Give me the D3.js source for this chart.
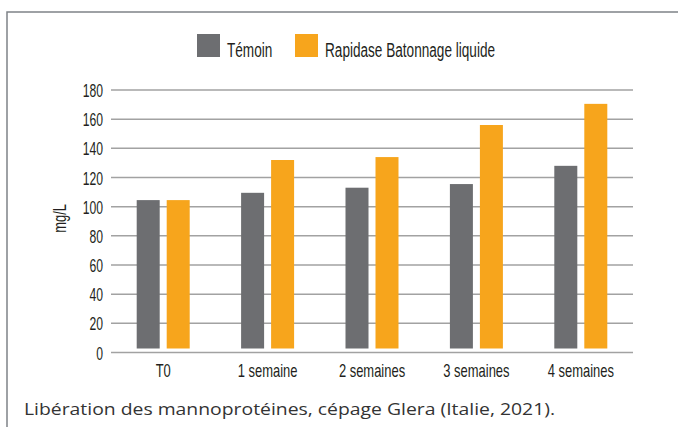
<!DOCTYPE html>
<html>
<head>
<meta charset="utf-8">
<script src="https://cdn.jsdelivr.net/npm/d3@7"></script>
<style>
  body { margin: 0; background: #fff; }
  svg { display: block; }
</style>
</head>
<body>
<svg id="chart" width="678" height="427"></svg>
<script>
const categories = ["T0", "1 semaine", "2 semaines", "3 semaines", "4 semaines"]
const series = ["Témoin", "Rapidase Batonnage liquide"]
const temoin = [104.5, 109.5, 113, 115.5, 128]
const rapidase = [104.5, 132, 134, 156, 170.5]
const yTicks = [0, 20, 40, 60, 80, 100, 120, 140, 160, 180]
const colors = ["#6d6e71", "#f7a51c"]
const caption = "Libération des mannoprotéines, cépage Glera (Italie, 2021)."

const svg = d3.select("#chart")
const margin = {top: 90, left: 111, right: 45, bottom: 74.5}
const width = 678 - margin.left - margin.right
const height = 427 - margin.top - margin.bottom
const condFont = "'Liberation Sans', Arial, sans-serif"
const textColor = "#231f20"

// frame (top + left edge of the box)
svg.append("path")
    .attr("d", "M7,427 V12 H678")
    .attr("fill", "none")
    .attr("stroke", "#7f8388")
    .attr("stroke-width", 1.5)

const g = svg.append("g")
    .attr("transform", "translate(" + margin.left + "," + margin.top + ")")

let x0 = d3.scaleBand()
    .domain(categories)
    .range([0, width])

let x1 = d3.scaleBand()
    .domain(series)
    .range([-26.5, 26.5])
    .paddingInner(7 / 30)

let y = d3.scaleLinear()
    .domain([0, 180])
    .range([height, 0])

// gridlines
g.selectAll(".grid")
    .data(yTicks)
    .enter().append("line")
    .attr("x1", 0)
    .attr("x2", width)
    .attr("y1", d => y(d))
    .attr("y2", d => y(d))
    .attr("stroke", "#a2a2a2")
    .attr("stroke-width", 1.5)

// y axis labels (condensed look via horizontal squeeze)
const yk = 0.64
const yAxis = g.append("g")
    .call(d3.axisLeft(y).tickValues(yTicks).tickSize(0))
yAxis.select(".domain").remove()
yAxis.selectAll("text")
    .attr("font-family", condFont)
    .attr("font-size", 19)
    .attr("fill", textColor)
    .attr("x", -8 / yk)
    .attr("dy", "0.35em")
    .attr("transform", "scale(" + yk + ",1)")

// x axis labels
const xk = 0.72
const xAxis = g.append("g")
    .attr("transform", "translate(0," + height + ")")
    .call(d3.axisBottom(x0).tickSize(0).tickPadding(12))
xAxis.select(".domain").remove()
xAxis.selectAll("text")
    .attr("font-family", condFont)
    .attr("font-size", 18)
    .attr("fill", textColor)
    .attr("transform", "scale(" + xk + ",1)")

// bars
const values = [temoin, rapidase]
series.forEach(function(s, si) {
    g.selectAll(".bar" + si)
        .data(values[si])
        .enter().append("rect")
        .attr("x", (d, i) => x0(categories[i]) + x0.bandwidth() / 2 + x1(s))
        .attr("width", x1.bandwidth())
        .attr("y", d => y(d))
        .attr("height", d => y(0) - 4 - y(d))
        .attr("fill", colors[si])
})

// y title
g.append("text")
    .attr("font-family", condFont)
    .attr("font-size", 18)
    .attr("fill", textColor)
    .attr("text-anchor", "middle")
    .attr("transform", "translate(-45," + y(92) + ") rotate(-90) scale(0.72,1)")
    .text("mg/L")

// legend
const legendX = [197, 295]
const lk = 0.68
series.forEach(function(s, i) {
    svg.append("rect")
        .attr("x", legendX[i])
        .attr("y", 34)
        .attr("width", 23)
        .attr("height", 23)
        .attr("fill", colors[i])
    svg.append("text")
        .attr("font-family", condFont)
        .attr("font-size", 20)
        .attr("fill", textColor)
        .attr("transform", "translate(" + (legendX[i] + 30) + ",57) scale(" + lk + ",1)")
        .text(s)
})

// caption
svg.append("text")
    .attr("x", 24)
    .attr("y", 415)
    .attr("font-family", "'Open Sans', sans-serif")
    .attr("font-size", 17)
    .attr("fill", "#333")
    .attr("textLength", 531)
    .attr("lengthAdjust", "spacingAndGlyphs")
    .text(caption)
</script>
</body>
</html>
